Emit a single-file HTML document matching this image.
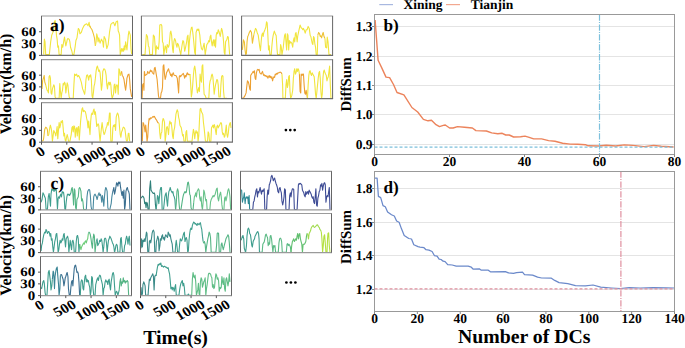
<!DOCTYPE html>
<html><head><meta charset="utf-8"><style>html,body{margin:0;padding:0;background:#fff;overflow:hidden}svg{display:block}</style></head>
<body><svg width="685" height="348" viewBox="0 0 685 348" text-rendering="geometricPrecision">
<rect width="685" height="348" fill="#fff"/>
<clipPath id="cpa00"><rect x="41.5" y="16.0" width="91" height="39.4"/></clipPath>
<g clip-path="url(#cpa00)" fill="none" stroke-width="1.1" stroke-linejoin="round">
<polyline points="43.69,54.62 44.36,39.17 45.03,41.86 45.70,54.62 49.33,54.62 50.67,41.86 51.74,35.15 52.82,32.46 53.76,29.77 54.43,21.72 55.10,20.37 55.77,25.74 56.44,35.15 57.12,39.17 57.79,47.23 58.46,45.89 59.13,54.62 61.15,54.62 61.82,44.55 62.76,47.23 63.83,40.52 64.50,37.16 65.17,41.86 65.85,45.89 66.52,43.20 67.19,39.85 67.86,38.50 69.20,39.17 69.87,41.86 70.55,47.23 71.89,51.26 72.56,54.62 73.90,54.62 75.25,45.89 75.92,40.52 76.99,37.83 77.53,33.80 78.34,28.43 79.28,29.77 79.95,33.80 81.29,32.46 82.63,28.43 83.98,25.74 85.32,24.40 86.66,23.73 88.01,25.74 89.08,22.39 89.62,25.74 90.69,27.76" stroke="#f1e53e"/>
<polyline points="89.62,25.74 90.69,27.76 92.03,29.77 93.38,33.80 94.45,37.83 95.39,45.89" stroke="#eec236"/>
<polyline points="95.39,45.89 96.06,41.86 96.73,33.80 97.41,36.49 98.08,41.86 98.75,37.83 100.09,43.20 101.44,39.17 102.78,41.86 103.45,47.23 104.12,36.49 105.46,39.17 106.81,48.58 108.15,44.55 109.49,32.46 110.84,24.40 112.18,23.06 113.52,22.39 114.87,25.74 116.21,21.72 117.55,21.04 118.22,31.12 118.89,32.46 119.57,35.15 120.24,54.62 121.58,48.58 122.25,51.26 122.92,48.58 123.59,51.26 124.27,45.89 124.94,49.92 125.61,41.86 126.95,49.92 128.30,35.15 128.97,31.12 130.31,35.15 130.98,48.58 131.65,53.95" stroke="#f1e53e"/>
</g>
<path d="M41.0,16.0H133.0" stroke="#9c9c9c" stroke-width="1.2" fill="none"/>
<path d="M41.0,55.4H133.0" stroke="#6e6e6e" stroke-width="1.2" fill="none"/>
<path d="M41.5,16.0V55.4M132.5,16.0V55.4" stroke="#666" stroke-width="1" fill="none"/>
<clipPath id="cpa01"><rect x="141.4" y="16.0" width="91" height="39.4"/></clipPath>
<g clip-path="url(#cpa01)" fill="none" stroke-width="1.1" stroke-linejoin="round">
<polyline points="142.34,54.62 145.03,54.62 146.37,34.47 147.45,36.49 148.39,45.89 149.06,47.23 149.73,54.62 152.42,54.62 153.36,35.15 154.43,36.49 155.10,45.89 155.77,54.62 156.44,45.89 157.12,48.58 157.79,47.23 158.46,49.25 159.13,41.86 159.80,25.07 161.15,24.40 161.82,25.74 162.49,41.86 163.16,43.20 163.83,54.62 165.17,45.89 165.85,47.23 166.52,52.60 167.19,44.55 168.53,47.23 169.20,44.55 170.28,32.46 170.81,31.12 171.62,35.15 172.56,48.58 173.23,52.60 173.90,41.86 174.58,38.50 175.52,40.52 176.19,44.55 176.99,47.23 177.53,43.20 178.34,44.55 179.01,47.23 179.95,51.26 180.75,54.62 181.96,45.89 182.90,40.52 183.71,41.86 184.65,51.26 185.32,48.58 186.66,41.86 187.33,36.49 188.01,35.15 188.68,54.62 189.35,41.86 190.42,32.46 191.36,27.76 192.03,27.09 193.11,35.15 193.78,41.86 194.72,52.60 195.39,54.62 196.06,32.46 197.14,29.10 198.08,30.44 198.75,29.10 199.82,35.15 200.36,41.86 201.44,48.58 202.51,49.92 203.45,45.89 204.12,43.20 205.20,54.62 206.14,48.58 206.81,44.55 207.88,43.20 208.82,40.52 209.49,41.86 210.16,36.49 210.84,35.15 211.51,41.86 212.18,45.89 212.85,41.86 213.52,39.85 214.19,45.89 214.87,39.85 215.54,47.23 216.21,35.15 216.88,32.46 217.55,33.80 218.22,29.77 218.89,31.12 220.24,36.49 220.91,32.46 221.58,28.43 222.25,30.44 222.92,35.15 223.59,41.86 224.27,52.60 224.94,54.62 225.61,41.86 226.95,39.17 227.62,36.49 228.30,37.16 228.97,45.89 229.64,54.62" stroke="#f1e53e"/>
</g>
<path d="M140.9,16.0H232.9" stroke="#9c9c9c" stroke-width="1.2" fill="none"/>
<path d="M140.9,55.4H232.9" stroke="#6e6e6e" stroke-width="1.2" fill="none"/>
<path d="M141.4,16.0V55.4M232.4,16.0V55.4" stroke="#666" stroke-width="1" fill="none"/>
<clipPath id="cpa02"><rect x="241.6" y="16.0" width="91" height="39.4"/></clipPath>
<g clip-path="url(#cpa02)" fill="none" stroke-width="1.1" stroke-linejoin="round">
<polyline points="242.34,49.92 243.42,39.85 244.36,41.86 245.03,49.92 245.70,54.62 246.37,53.95 247.04,41.86 247.72,36.49 248.39,35.15 249.33,32.46 250.40,30.44 251.48,32.46 252.42,43.20 253.09,39.17 253.76,35.15" stroke="#eec236"/>
<polyline points="253.76,35.15 254.43,32.46 255.50,28.43 256.44,29.77 257.12,32.46 258.19,35.15 259.13,41.86 259.80,47.23 260.47,50.59 261.15,41.86 261.82,35.15 262.49,33.13 263.16,36.49 263.83,32.46 264.91,29.77 265.85,27.09 266.52,21.72 267.19,23.06 267.86,35.15 268.53,49.92 269.20,45.89 269.87,54.62 271.22,54.62 271.89,45.89 272.56,39.17 273.23,35.15 274.31,31.12 275.25,33.80 276.19,35.82 276.99,48.58 277.53,54.62 279.95,54.62 280.62,44.55 281.29,47.23 281.96,54.62 283.30,47.23 283.98,40.52 284.65,35.15 285.32,33.80 285.99,41.86 286.66,49.92 287.33,33.80 288.01,35.15 288.68,49.92 289.35,40.52 290.02,43.20 290.69,41.86 291.77,43.20 292.71,47.23 293.38,40.52 294.05,37.83 294.72,41.86 295.39,33.80 296.06,32.46 297.14,41.86 297.67,36.49 298.75,31.12 300.09,25.07 301.17,27.76 302.11,28.43 302.78,29.77 303.45,28.43 304.39,30.44 305.20,33.13 306.14,29.77 307.08,29.77 308.15,26.42 309.22,28.43 310.16,35.15 310.84,36.49 311.51,39.85 312.18,43.20 312.85,44.55 313.52,36.49 314.19,37.83 314.87,43.87 315.54,47.23 316.21,54.62 317.28,54.62 317.82,35.15" stroke="#f1e53e"/>
<polyline points="317.82,35.15 318.63,32.46 319.57,33.80 320.24,36.49 320.91,35.82 321.58,37.83 322.65,33.80 323.19,32.46 324.00,36.49 324.94,38.50" stroke="#eec236"/>
<polyline points="324.94,38.50 325.61,47.23 326.68,47.90 327.22,37.16 328.03,41.86 328.97,54.62 330.98,54.62" stroke="#f1e53e"/>
</g>
<path d="M241.1,16.0H333.1" stroke="#9c9c9c" stroke-width="1.2" fill="none"/>
<path d="M241.1,55.4H333.1" stroke="#6e6e6e" stroke-width="1.2" fill="none"/>
<path d="M241.6,16.0V55.4M332.6,16.0V55.4" stroke="#666" stroke-width="1" fill="none"/>
<line x1="39.0" y1="55.4" x2="41.5" y2="55.4" stroke="#555" stroke-width="1"/>
<text transform="translate(36.2,59.699999999999996) scale(1.15,1)" font-family="Liberation Serif" font-weight="bold" font-size="13" text-anchor="end">0</text>
<line x1="39.0" y1="43.58" x2="41.5" y2="43.58" stroke="#555" stroke-width="1"/>
<text transform="translate(36.2,47.879999999999995) scale(1.15,1)" font-family="Liberation Serif" font-weight="bold" font-size="13" text-anchor="end">30</text>
<line x1="39.0" y1="31.76" x2="41.5" y2="31.76" stroke="#555" stroke-width="1"/>
<text transform="translate(36.2,36.06) scale(1.15,1)" font-family="Liberation Serif" font-weight="bold" font-size="13" text-anchor="end">60</text>
<clipPath id="cpa10"><rect x="41.5" y="59.6" width="91" height="38.99999999999999"/></clipPath>
<g clip-path="url(#cpa10)" fill="none" stroke-width="1.1" stroke-linejoin="round">
<polyline points="42.07,88.89 42.61,80.83 43.42,78.15 44.22,75.46 44.76,82.17 45.70,84.86" stroke="#eec236"/>
<polyline points="45.70,84.86 46.37,87.55 47.04,90.23 47.72,90.90 48.39,92.92 49.06,76.80 49.73,75.46 50.40,78.15 51.07,92.92 51.74,94.26 52.42,88.89 53.09,86.87 53.76,84.86 54.43,86.20 55.10,96.95 55.77,98.29 59.13,98.29 59.80,83.52 60.47,91.58 61.15,98.29 61.82,92.92 62.49,90.23 63.16,83.52 63.83,84.86 64.50,82.17 65.17,83.52 65.85,92.92 66.52,87.55 67.19,82.85 67.86,84.86 68.53,91.58 69.20,96.95 69.87,98.29 73.23,98.29 73.90,84.86 74.58,74.12 75.65,75.46 76.59,74.12 77.53,76.80 78.60,75.46 79.28,76.80 79.95,78.15 81.29,82.17 82.63,88.89 83.71,91.58 84.65,94.26 85.32,88.89 85.99,79.49 86.66,75.46 87.33,74.79 88.01,76.80 88.68,80.16 89.35,75.46 90.02,76.80 90.69,74.79 91.36,79.49 92.03,95.60 92.71,98.29 93.38,92.92 94.05,86.20 94.72,83.52 95.39,78.15 96.06,71.43 96.73,67.40 97.41,66.06 98.08,68.74 98.75,71.43 99.42,70.09 100.09,72.77 100.76,80.83 101.44,90.23 102.11,84.86 102.78,71.43 103.85,68.74 104.79,69.42 105.46,71.43 106.14,75.46 106.81,84.86 107.48,88.89 108.15,83.52 108.82,82.17 109.49,84.86 110.16,82.17 110.84,84.86 111.51,94.26 112.18,98.29 113.52,94.26 114.19,84.86 114.87,84.19 115.54,92.92 116.21,86.20 116.88,84.86 117.55,86.20 118.22,94.26 118.89,68.74 119.57,70.09 120.24,75.46 120.91,74.12 121.58,71.43" stroke="#f1e53e"/>
<polyline points="121.58,71.43 122.25,75.46 123.19,76.80 124.00,79.49 124.94,86.20 125.61,90.23 126.28,84.86 126.95,78.15 128.03,74.79 128.97,74.12 129.64,79.49 130.31,88.89 130.98,92.92 131.65,96.95" stroke="#eca032"/>
</g>
<path d="M41.0,59.6H133.0" stroke="#9c9c9c" stroke-width="1.2" fill="none"/>
<path d="M41.0,98.6H133.0" stroke="#6e6e6e" stroke-width="1.2" fill="none"/>
<path d="M41.5,59.6V98.6M132.5,59.6V98.6" stroke="#666" stroke-width="1" fill="none"/>
<clipPath id="cpa11"><rect x="141.4" y="59.6" width="91" height="38.99999999999999"/></clipPath>
<g clip-path="url(#cpa11)" fill="none" stroke-width="1.1" stroke-linejoin="round">
<polyline points="142.07,98.29 142.61,84.86 143.42,83.52 143.95,90.23 144.36,71.43 145.03,75.46 146.10,74.79 147.04,74.12 147.72,71.43 148.39,72.77 149.06,73.44 149.73,72.10 150.40,70.09 151.07,71.43 151.74,70.76 152.42,72.77 153.09,73.44 153.76,74.12 154.43,68.07 155.10,67.40 155.77,71.43 156.44,75.46 157.12,79.49 157.79,87.55 158.46,95.60 159.13,98.29 160.47,98.29 161.15,92.92 161.82,91.58 162.49,87.55 163.16,66.06 163.83,64.72 164.50,74.12 165.17,79.49 165.85,76.80 166.52,72.77 167.19,71.43 167.86,70.09 168.53,68.74 169.20,71.43 169.87,72.77 170.55,75.46 171.22,74.12 171.89,76.80 172.56,74.12 173.23,72.77 173.90,74.79 174.58,75.46 175.25,75.46 175.92,75.46 176.59,76.80 177.26,78.15 177.93,84.86 178.60,92.92 179.28,76.80 179.95,75.46 180.62,76.80 181.29,75.46 181.96,74.79 182.63,74.12 183.30,73.44 183.98,75.46 184.65,78.15 185.32,75.46 185.99,76.80 186.66,74.12 187.33,72.77 188.01,74.79 188.68,74.12 189.35,74.79 190.02,74.12" stroke="#eca032"/>
<polyline points="190.02,74.12 190.69,84.86 191.36,96.95 192.03,92.92 192.71,84.86 193.38,75.46 194.05,68.74 194.72,66.06 195.39,70.09 196.06,78.15 196.73,87.55 197.41,92.92 198.08,90.23 198.75,87.55 199.42,91.58 200.09,74.12 200.76,79.49 201.44,82.17 202.11,66.06 202.78,64.72 203.45,82.17 204.12,94.26 205.20,95.60 206.14,98.29 208.82,98.29 209.49,84.86 210.16,80.83 210.84,79.49 211.51,75.46 212.18,74.12 212.85,76.80 213.52,84.86 214.19,94.26 214.87,88.89 215.54,84.86 216.21,82.17 216.88,79.49 217.55,80.16 218.22,84.86 218.89,96.95 220.24,96.95 220.91,84.86 221.58,76.80 222.25,75.46 222.92,76.13 223.59,91.58 224.27,98.29 226.95,98.29" stroke="#f1e53e"/>
</g>
<path d="M140.9,59.6H232.9" stroke="#9c9c9c" stroke-width="1.2" fill="none"/>
<path d="M140.9,98.6H232.9" stroke="#6e6e6e" stroke-width="1.2" fill="none"/>
<path d="M141.4,59.6V98.6M232.4,59.6V98.6" stroke="#666" stroke-width="1" fill="none"/>
<clipPath id="cpa12"><rect x="241.6" y="59.6" width="91" height="38.99999999999999"/></clipPath>
<g clip-path="url(#cpa12)" fill="none" stroke-width="1.1" stroke-linejoin="round">
<polyline points="242.34,98.29 243.69,97.62 245.03,95.60 246.10,92.92 246.64,87.55 247.45,80.83 248.39,82.17 249.06,84.86 249.73,88.89 250.40,90.23 250.67,75.46 251.48,74.12 252.42,72.77 253.09,71.43 253.76,72.77 254.43,70.76 255.10,78.15 255.77,79.49 256.44,72.77 257.12,70.09 257.79,69.42 258.46,70.09 259.13,69.42 259.80,72.77 260.47,73.44 261.15,74.12 261.82,72.77 262.49,71.43 263.16,74.12 263.83,75.46 264.50,74.79 265.17,76.13 265.85,75.46 266.52,76.80 267.19,76.13 267.86,78.15 268.53,76.80 269.20,75.46 269.87,77.47 270.55,76.13 271.22,78.15 271.89,76.80 272.56,80.83 273.23,78.15 273.90,76.80 274.58,77.47 275.25,74.12 275.92,74.79 276.59,73.44 277.26,74.12 277.93,72.77 278.60,73.04 279.95,72.10 281.29,72.77 281.96,74.12" stroke="#eca032"/>
<polyline points="281.96,74.12 282.63,84.86 282.90,98.29 285.32,98.29 285.99,84.86 286.66,79.49 287.33,87.55 288.01,84.86 288.68,76.80 289.35,75.46 290.02,91.58 290.69,98.29 291.77,95.60 292.71,90.23 293.38,78.15 294.05,71.43 294.72,68.74 295.39,74.12 296.06,72.77 296.73,68.74 297.41,71.43 298.08,68.74 298.75,70.09 299.42,74.12" stroke="#f1e53e"/>
<polyline points="299.42,74.12 300.09,91.58 300.76,92.92 301.17,74.12 302.11,75.46 302.78,74.12 303.45,74.12 304.12,84.86 304.79,92.92 305.46,94.26 306.14,90.23 306.81,94.26 307.48,98.29" stroke="#eca032"/>
<polyline points="307.48,98.29 308.15,84.86 308.82,75.46 309.49,71.43 310.16,70.76 310.84,74.12 311.51,75.46 312.18,72.77 312.85,74.12 313.52,75.46 314.19,76.80 314.87,84.86 315.54,94.26 316.21,98.29 316.88,91.58 317.55,84.86 318.22,78.15 318.89,72.77 319.57,71.43 320.24,78.15 320.91,91.58 321.58,98.29 322.25,94.26 322.92,78.15 323.59,71.43 324.27,70.09 324.94,72.77 325.61,74.12 326.28,75.46 326.95,80.83 327.62,78.15 328.30,76.80 328.97,71.43 329.64,66.06 330.31,84.86 330.98,98.29" stroke="#f1e53e"/>
</g>
<path d="M241.1,59.6H333.1" stroke="#9c9c9c" stroke-width="1.2" fill="none"/>
<path d="M241.1,98.6H333.1" stroke="#6e6e6e" stroke-width="1.2" fill="none"/>
<path d="M241.6,59.6V98.6M332.6,59.6V98.6" stroke="#666" stroke-width="1" fill="none"/>
<line x1="39.0" y1="98.6" x2="41.5" y2="98.6" stroke="#555" stroke-width="1"/>
<text transform="translate(36.2,102.89999999999999) scale(1.15,1)" font-family="Liberation Serif" font-weight="bold" font-size="13" text-anchor="end">0</text>
<line x1="39.0" y1="86.89999999999999" x2="41.5" y2="86.89999999999999" stroke="#555" stroke-width="1"/>
<text transform="translate(36.2,91.19999999999999) scale(1.15,1)" font-family="Liberation Serif" font-weight="bold" font-size="13" text-anchor="end">30</text>
<line x1="39.0" y1="75.2" x2="41.5" y2="75.2" stroke="#555" stroke-width="1"/>
<text transform="translate(36.2,79.5) scale(1.15,1)" font-family="Liberation Serif" font-weight="bold" font-size="13" text-anchor="end">60</text>
<clipPath id="cpa20"><rect x="41.5" y="102.7" width="91" height="39.499999999999986"/></clipPath>
<g clip-path="url(#cpa20)" fill="none" stroke-width="1.1" stroke-linejoin="round">
<polyline points="42.34,141.29 43.42,139.95 43.95,135.92 44.76,129.20 45.70,127.19 46.64,127.86 47.45,129.87 47.98,135.92" stroke="#eec236"/>
<polyline points="47.98,135.92 48.79,134.58 49.73,127.86 50.40,125.17 51.07,127.86 51.74,131.89 52.42,141.29 53.09,135.92 53.76,130.55 54.43,131.89 55.10,133.23 55.77,135.92 56.44,131.89 57.12,126.52 57.79,138.60 58.46,130.55 59.13,122.49 59.80,127.86 60.47,125.17 61.15,121.15 61.82,122.49 62.49,120.47 63.16,127.86 63.83,135.92 64.50,133.23 65.17,139.95 65.85,141.29 66.52,137.26 67.19,134.58 67.86,137.26 68.53,141.29 69.87,141.29 71.22,134.58 71.89,127.86 72.56,126.52 73.23,131.89 73.90,125.85 74.58,126.52 75.25,137.26 75.92,129.20 76.59,127.86 77.26,135.92 77.93,127.86 78.60,126.52 79.28,139.95 79.95,130.55 80.62,121.15 81.29,114.43 81.96,109.06 82.63,107.72 83.30,111.74 83.98,110.40 84.65,111.07 85.32,111.74 85.99,114.43 86.66,118.46 87.33,121.15 88.01,127.86 88.68,121.15 89.35,127.86 90.02,134.58 90.69,121.15 91.36,114.43 92.03,113.09 92.71,114.43 93.38,110.40 94.05,109.06 94.72,114.43 95.39,111.74 96.06,118.46 96.73,126.52 97.41,125.17 98.08,123.83 98.75,125.17 99.42,134.58 100.09,141.29 100.76,134.58 101.44,127.86 102.11,122.49 102.78,127.86 103.45,131.89 104.12,134.58 104.79,133.23 105.46,130.55 106.14,127.86 106.81,126.52 107.48,122.49 108.15,125.17 108.82,121.15 109.49,113.09 110.16,113.09 110.84,141.29 112.18,141.29 112.85,127.86 113.52,125.17 114.19,126.52 114.87,124.50 115.54,130.55 116.21,117.12 116.88,114.43 117.55,113.09 118.22,114.43 118.89,118.46 119.57,127.86 120.24,134.58 120.91,137.26 121.58,131.89 122.25,130.55 122.92,127.86 123.59,127.19 124.27,127.86 124.94,129.20 125.61,134.58 126.28,139.95 126.95,141.29 127.62,139.95 128.30,133.23 128.97,133.23 129.64,141.29" stroke="#f1e53e"/>
</g>
<path d="M41.0,102.7H133.0" stroke="#9c9c9c" stroke-width="1.2" fill="none"/>
<path d="M41.0,142.2H133.0" stroke="#6e6e6e" stroke-width="1.2" fill="none"/>
<path d="M41.5,102.7V142.2M132.5,102.7V142.2" stroke="#666" stroke-width="1" fill="none"/>
<clipPath id="cpa21"><rect x="141.4" y="102.7" width="91" height="39.499999999999986"/></clipPath>
<g clip-path="url(#cpa21)" fill="none" stroke-width="1.1" stroke-linejoin="round">
<polyline points="142.34,141.29 143.01,122.49 143.69,123.83 144.36,126.52 145.03,131.89 145.70,125.17 146.37,131.89 147.04,141.29 147.72,137.26 148.39,125.17 149.06,118.46 149.73,119.80 150.40,117.79 151.07,118.46 151.74,117.79 152.42,117.12 153.09,116.44 153.76,117.12 154.43,116.44 155.10,117.79 155.77,119.13 156.44,119.80 157.12,121.15 157.79,122.49 158.46,123.16" stroke="#eca032"/>
<polyline points="158.46,123.16 159.13,123.83 159.80,133.23 160.47,138.60 161.15,133.23 161.82,131.89 162.49,121.15 163.16,118.46 163.83,119.80 164.50,122.49 165.17,141.29 165.85,135.92 166.52,127.86 167.19,126.52 167.86,129.20 168.53,134.58 169.20,125.17 169.87,121.15 170.55,123.83 171.22,122.49 171.89,127.86 172.56,135.92 173.23,138.60 173.90,130.55 174.58,127.86 175.25,121.15 175.92,114.43 176.59,111.74 177.26,109.73 177.93,111.74 178.60,117.12 179.28,119.80 179.95,125.17 180.62,126.52 181.29,127.86 181.96,131.89 182.63,135.92 183.30,134.58 183.98,141.29 185.32,141.29 185.99,131.89 186.66,130.55 187.33,141.29 192.03,141.29 192.71,134.58 193.38,129.20 194.05,131.89 194.72,138.60 195.39,133.23 196.06,130.55 196.73,133.23 197.41,131.89 198.08,141.29 198.75,135.92 199.42,121.15 200.09,109.06 200.76,108.39 201.44,111.74 202.11,113.09 202.78,114.43 203.45,122.49 204.12,127.86 204.79,134.58 205.46,141.29 207.48,141.29 208.15,131.89 208.82,133.23 209.49,141.29 210.84,141.29 211.51,127.86 212.18,126.52 212.85,125.17 213.52,127.86 214.19,124.50 214.87,126.52 215.54,130.55 216.21,134.58 216.88,126.52 217.55,125.17 218.22,127.86 218.89,126.52 219.57,125.17 220.24,123.83 220.91,122.49 221.58,123.83 222.25,131.89 222.92,134.58 223.59,133.23 224.27,137.26 224.94,135.92 225.61,130.55 226.28,125.17 226.95,134.58 227.62,137.26 228.30,133.23 228.97,126.52 229.64,123.83 230.31,122.49 230.98,127.86" stroke="#f1e53e"/>
</g>
<path d="M140.9,102.7H232.9" stroke="#9c9c9c" stroke-width="1.2" fill="none"/>
<path d="M140.9,142.2H232.9" stroke="#6e6e6e" stroke-width="1.2" fill="none"/>
<path d="M141.4,102.7V142.2M232.4,102.7V142.2" stroke="#666" stroke-width="1" fill="none"/>
<line x1="39.0" y1="142.2" x2="41.5" y2="142.2" stroke="#555" stroke-width="1"/>
<text transform="translate(36.2,146.5) scale(1.15,1)" font-family="Liberation Serif" font-weight="bold" font-size="13" text-anchor="end">0</text>
<line x1="39.0" y1="130.35" x2="41.5" y2="130.35" stroke="#555" stroke-width="1"/>
<text transform="translate(36.2,134.65) scale(1.15,1)" font-family="Liberation Serif" font-weight="bold" font-size="13" text-anchor="end">30</text>
<line x1="39.0" y1="118.5" x2="41.5" y2="118.5" stroke="#555" stroke-width="1"/>
<text transform="translate(36.2,122.8) scale(1.15,1)" font-family="Liberation Serif" font-weight="bold" font-size="13" text-anchor="end">60</text>
<line x1="41.5" y1="142.2" x2="41.5" y2="144.7" stroke="#555" stroke-width="1"/>
<text transform="translate(40.3,151.66) scale(1.15,1) rotate(-30)" font-family="Liberation Serif" font-weight="bold" font-size="13.6" text-anchor="middle" dy="4.5">0</text>
<line x1="66.77777777777777" y1="142.2" x2="66.77777777777777" y2="144.7" stroke="#555" stroke-width="1"/>
<text transform="translate(65.57777777777777,154.91) scale(1.15,1) rotate(-30)" font-family="Liberation Serif" font-weight="bold" font-size="13.6" text-anchor="middle" dy="4.5">500</text>
<line x1="92.05555555555556" y1="142.2" x2="92.05555555555556" y2="144.7" stroke="#555" stroke-width="1"/>
<text transform="translate(90.85555555555555,156.54) scale(1.15,1) rotate(-30)" font-family="Liberation Serif" font-weight="bold" font-size="13.6" text-anchor="middle" dy="4.5">1000</text>
<line x1="117.33333333333334" y1="142.2" x2="117.33333333333334" y2="144.7" stroke="#555" stroke-width="1"/>
<text transform="translate(116.13333333333334,156.54) scale(1.15,1) rotate(-30)" font-family="Liberation Serif" font-weight="bold" font-size="13.6" text-anchor="middle" dy="4.5">1500</text>
<line x1="141.4" y1="142.2" x2="141.4" y2="144.7" stroke="#555" stroke-width="1"/>
<text transform="translate(140.20000000000002,151.66) scale(1.15,1) rotate(-30)" font-family="Liberation Serif" font-weight="bold" font-size="13.6" text-anchor="middle" dy="4.5">0</text>
<line x1="166.67777777777778" y1="142.2" x2="166.67777777777778" y2="144.7" stroke="#555" stroke-width="1"/>
<text transform="translate(165.4777777777778,154.91) scale(1.15,1) rotate(-30)" font-family="Liberation Serif" font-weight="bold" font-size="13.6" text-anchor="middle" dy="4.5">500</text>
<line x1="191.95555555555558" y1="142.2" x2="191.95555555555558" y2="144.7" stroke="#555" stroke-width="1"/>
<text transform="translate(190.7555555555556,156.54) scale(1.15,1) rotate(-30)" font-family="Liberation Serif" font-weight="bold" font-size="13.6" text-anchor="middle" dy="4.5">1000</text>
<line x1="217.23333333333335" y1="142.2" x2="217.23333333333335" y2="144.7" stroke="#555" stroke-width="1"/>
<text transform="translate(216.03333333333336,156.54) scale(1.15,1) rotate(-30)" font-family="Liberation Serif" font-weight="bold" font-size="13.6" text-anchor="middle" dy="4.5">1500</text>
<text x="49.9" y="31" font-family="Liberation Serif" font-weight="bold" font-size="17.6">a)</text>
<clipPath id="cpc00"><rect x="40.5" y="171.3" width="91" height="38.599999999999994"/></clipPath>
<g clip-path="url(#cpc00)" fill="none" stroke-width="1.1" stroke-linejoin="round">
<polyline points="41.07,202.23 42.01,199.55 42.95,192.83 43.76,194.17 44.70,196.86 45.37,198.20 46.04,208.95 47.39,209.62 48.33,196.86 49.13,193.50 49.67,198.20 50.48,206.26 51.01,194.17 51.82,188.80 52.76,190.15 53.43,189.47 54.10,191.49 54.77,188.80 55.44,190.15 56.12,188.80 56.79,196.86 57.46,208.95 58.13,198.20 58.80,196.86 59.47,198.20 60.15,195.52 60.82,194.17 61.49,196.86 62.16,191.49 62.83,192.83 63.50,192.16 64.17,196.86 64.85,208.95 65.52,209.62 66.19,202.23 66.86,196.86 67.53,194.17 68.20,194.85 68.87,194.17 69.55,195.52 70.22,194.17 70.89,192.83" stroke="#3f9e8e"/>
<polyline points="70.89,192.83 71.56,188.80 72.23,187.46 72.90,194.17 73.58,204.92 74.25,188.80 74.92,190.15 75.59,207.60 76.26,209.62 76.93,199.55 77.60,198.20 78.28,196.86 78.95,188.80 79.62,187.46 80.29,188.80 80.96,191.49 81.63,200.89 82.30,198.87 82.98,202.23 83.65,209.62 86.33,209.62" stroke="#55b585"/>
<polyline points="86.33,209.62 87.01,196.86 87.68,191.49 88.35,190.15 89.02,189.47 89.69,190.15 90.36,195.52 91.03,206.26 91.71,209.62 93.05,209.62 93.72,196.86 94.39,194.85 95.06,194.17 95.73,195.52 96.41,196.86 97.08,199.55 97.75,196.86 98.42,194.17 99.09,192.83 99.76,195.52 100.44,194.17 101.11,196.86 101.78,202.23 102.45,195.52 103.12,199.55 103.79,206.26 104.46,196.86 105.14,190.15 105.81,187.46 106.48,188.80 107.15,191.49 107.82,207.60 108.49,209.62 109.84,209.62 110.51,206.26 111.18,203.58 111.85,196.86 112.52,192.83" stroke="#4a8aa0"/>
<polyline points="112.52,192.83 113.19,190.15 113.87,187.46 114.54,194.17 115.21,191.49 115.88,187.46 116.55,182.76 117.22,183.43 117.89,186.12 118.57,182.09 119.24,183.43 119.91,182.09 120.58,187.46 121.25,191.49 121.92,195.52 122.59,191.49 123.27,198.20 123.94,190.15 124.61,209.62 125.28,204.92 125.95,191.49 126.62,188.80 127.30,187.46 127.97,190.15 128.64,191.49 129.31,194.17 129.98,209.62" stroke="#3b6f90"/>
</g>
<path d="M40.0,171.3H132.0" stroke="#9c9c9c" stroke-width="1.2" fill="none"/>
<path d="M40.0,209.9H132.0" stroke="#9a9a9a" stroke-width="1.2" fill="none"/>
<path d="M40.5,171.3V209.9M131.5,171.3V209.9" stroke="#666" stroke-width="1" fill="none"/>
<clipPath id="cpc01"><rect x="140.5" y="171.3" width="91" height="38.599999999999994"/></clipPath>
<g clip-path="url(#cpc01)" fill="none" stroke-width="1.1" stroke-linejoin="round">
<polyline points="141.07,198.20 142.01,196.86 142.69,196.19 143.36,196.86 144.03,198.20 144.70,203.58 145.37,202.23 146.04,207.60 146.72,202.23 147.39,203.58 148.06,209.62 149.13,209.62 149.67,188.80 150.48,180.74 151.01,190.15 151.82,191.49 152.76,192.83 153.43,193.50 154.10,192.83 154.77,194.17 155.44,204.92 156.12,209.62" stroke="#2f807a"/>
<polyline points="156.12,209.62 156.79,203.58 157.46,195.52 158.13,196.86 158.80,203.58 159.47,196.86 160.15,190.15 160.82,187.46 161.49,187.46 162.16,209.62 163.50,209.62 164.17,203.58 164.85,196.86 165.52,194.17 166.19,192.83 166.86,200.89 167.53,206.26 168.20,196.86 168.87,191.49 169.55,190.15 170.22,187.46 170.89,190.15 171.56,191.49 172.23,192.83 172.90,191.49 173.58,195.52 174.25,196.86 174.92,199.55 175.59,209.62" stroke="#3f9e8e"/>
<polyline points="175.59,209.62 176.26,203.58 176.93,191.49 177.60,188.80 178.28,191.49 178.95,202.23 179.62,209.62 180.96,209.62 182.30,200.89 182.98,196.86 183.65,194.17 184.32,192.83 184.99,191.49 185.66,192.83 186.33,192.16 187.01,187.46 187.68,182.76 188.35,182.09 189.02,186.12 189.69,194.17 190.36,195.52 191.03,207.60 191.71,209.62 193.05,209.62 193.72,202.23" stroke="#55b585"/>
<polyline points="193.72,202.23 194.39,196.86 195.06,195.52 195.73,192.83 196.41,196.86 197.08,191.49 197.75,190.15 198.42,188.80 199.09,190.15 199.76,198.20 200.44,200.89 201.11,196.86 201.78,206.26 202.45,209.62 203.12,202.23 203.79,190.15 204.46,192.16 205.14,196.86 205.81,200.89 206.48,199.55 207.15,209.62 209.84,209.62 210.51,202.23 211.18,199.55 211.85,198.20 212.52,196.86 213.19,195.52 213.87,196.86 214.54,195.52 215.21,194.17 215.88,191.49 216.55,188.80 217.22,188.13 217.89,198.20 218.57,200.89 219.24,196.86 219.91,194.17 220.58,192.16 221.25,196.86 221.92,204.92 222.59,209.62 223.94,209.62 224.61,198.20 225.28,196.86 225.95,200.89 226.62,198.20 227.30,194.17 227.97,190.15 228.64,188.80 229.31,191.49 229.98,196.86 230.65,209.62" stroke="#68c28a"/>
</g>
<path d="M140.0,171.3H232.0" stroke="#9c9c9c" stroke-width="1.2" fill="none"/>
<path d="M140.0,209.9H232.0" stroke="#9a9a9a" stroke-width="1.2" fill="none"/>
<path d="M140.5,171.3V209.9M231.5,171.3V209.9" stroke="#666" stroke-width="1" fill="none"/>
<clipPath id="cpc02"><rect x="240.5" y="171.3" width="91" height="38.599999999999994"/></clipPath>
<g clip-path="url(#cpc02)" fill="none" stroke-width="1.1" stroke-linejoin="round">
<polyline points="241.07,190.15 241.61,190.15 242.42,202.23 242.95,199.55 243.76,196.86 244.30,192.83 245.10,203.58 245.64,198.20 246.45,196.86 246.98,198.20 247.79,196.86 248.33,203.58 249.13,195.52 249.67,209.62" stroke="#2e8a95"/>
<polyline points="249.67,209.62 252.76,209.62 253.43,202.23 254.10,200.89 254.77,196.86 255.44,194.17 256.12,190.15 256.79,188.80 257.46,196.86 258.13,191.49 258.80,192.83 259.47,190.15 260.15,187.46 260.82,191.49 261.49,194.17 262.16,190.15 262.83,191.49 263.50,190.15 264.17,188.80 264.85,209.62 266.59,209.62 267.13,196.86 267.80,190.15 268.47,194.17 269.28,184.77 269.81,183.43 270.62,180.74 271.16,176.72 271.96,175.37 272.50,177.39 273.31,180.74 273.84,179.40 274.65,178.06 275.19,180.74 275.99,183.43 276.53,184.77 277.34,187.46 277.87,191.49 278.68,192.83 279.22,188.80 280.02,187.46 280.56,190.15 281.36,192.83 281.90,200.89 282.71,204.92 283.24,202.23 284.05,196.86 284.59,188.80 285.39,190.15 285.93,209.62 289.02,209.62 289.69,195.52 290.36,192.83 291.03,196.86 291.71,191.49 292.38,188.80 293.05,188.80 293.72,189.47 294.39,209.62 297.08,209.62 297.75,196.86 298.42,184.77 299.09,183.43 299.76,184.10 300.44,183.43 301.11,184.10 301.78,184.77 302.45,190.15 303.12,191.49 303.79,192.83 304.46,195.52 305.14,196.86 305.81,191.49 306.48,194.17 307.15,192.83 307.82,191.49 308.49,194.17 309.16,190.15 309.84,191.49 310.51,192.83 311.18,194.17 311.85,196.86 312.52,198.20 313.19,196.86 313.87,202.23 314.54,203.58 315.21,196.86 315.88,188.80 316.55,204.92 317.22,206.26 317.89,198.20 318.57,195.52 319.24,191.49 319.91,190.15 320.58,184.77 321.25,186.12 321.92,183.43 322.59,190.15 323.27,186.12 323.94,183.43 324.61,182.76 325.28,184.77 325.95,202.23 326.62,196.86 327.30,195.52 327.97,196.86 328.64,191.49 329.31,187.46 329.98,209.62" stroke="#3e4c95"/>
</g>
<path d="M240.0,171.3H332.0" stroke="#9c9c9c" stroke-width="1.2" fill="none"/>
<path d="M240.0,209.9H332.0" stroke="#9a9a9a" stroke-width="1.2" fill="none"/>
<path d="M240.5,171.3V209.9M331.5,171.3V209.9" stroke="#666" stroke-width="1" fill="none"/>
<line x1="38.0" y1="209.9" x2="40.5" y2="209.9" stroke="#555" stroke-width="1"/>
<text transform="translate(35.2,214.20000000000002) scale(1.15,1)" font-family="Liberation Serif" font-weight="bold" font-size="13" text-anchor="end">0</text>
<line x1="38.0" y1="198.32" x2="40.5" y2="198.32" stroke="#555" stroke-width="1"/>
<text transform="translate(35.2,202.62) scale(1.15,1)" font-family="Liberation Serif" font-weight="bold" font-size="13" text-anchor="end">30</text>
<line x1="38.0" y1="186.74" x2="40.5" y2="186.74" stroke="#555" stroke-width="1"/>
<text transform="translate(35.2,191.04000000000002) scale(1.15,1)" font-family="Liberation Serif" font-weight="bold" font-size="13" text-anchor="end">60</text>
<clipPath id="cpc10"><rect x="40.5" y="213.5" width="91" height="39.099999999999994"/></clipPath>
<g clip-path="url(#cpc10)" fill="none" stroke-width="1.1" stroke-linejoin="round">
<polyline points="41.07,250.95 41.61,245.58 42.42,242.89 42.95,238.86 43.76,234.83 44.70,232.15 45.37,232.82 46.04,229.46 46.72,230.80 47.39,233.49 48.06,232.15 48.73,231.47 49.40,232.82 50.07,236.17 50.74,233.49 51.42,240.20 52.09,238.86 52.76,246.92 53.43,252.29 54.10,246.92 54.77,241.55 55.44,238.86 56.12,234.16 56.79,233.49 57.46,241.55 58.13,252.29 58.80,249.60 59.47,244.23 60.15,240.20 60.82,242.89 61.49,241.55 62.16,238.86 62.83,240.20 63.50,234.83 64.17,233.49 64.85,240.20 65.52,246.92 66.19,238.86 66.86,237.52 67.53,236.17 68.20,238.86 68.87,252.29 69.55,245.58 70.22,240.20 70.89,245.58 71.56,249.60 72.23,241.55 72.90,240.20 73.58,242.89 74.25,252.29 75.59,252.29 76.26,241.55 76.93,236.17 77.60,235.50 78.28,238.86 78.95,252.29 79.62,244.23" stroke="#3f9e8e"/>
<polyline points="79.62,244.23 80.29,246.92 80.96,249.60 81.63,246.92 82.30,245.58 82.98,244.23 83.65,242.89 84.32,244.23 84.99,241.55 85.66,240.87 86.33,242.89 87.01,240.20 87.68,238.86 88.35,233.49" stroke="#6ccc78"/>
<polyline points="88.35,233.49 89.02,232.15 89.69,232.82 90.36,234.83 91.03,238.86 91.71,244.23 92.38,248.26 93.05,238.86 93.72,234.16 94.39,236.17 95.06,252.29 95.73,245.58 96.41,241.55" stroke="#55b585"/>
<polyline points="96.41,241.55 97.08,238.86 97.75,245.58 98.42,244.23 99.09,242.89 99.76,240.20 100.44,241.55 101.11,238.86 101.78,240.20 102.45,245.58 103.12,252.29 103.79,246.92 104.46,238.86 105.14,238.19 105.81,238.86 106.48,242.89 107.15,252.29 107.82,245.58 108.49,240.20 109.16,238.86 109.84,236.17 110.51,237.52 111.18,238.86 111.85,240.87 112.52,242.89 113.19,244.23 113.87,246.92 114.54,252.29 115.21,249.60 115.88,245.58 116.55,244.23 117.22,245.58 117.89,252.29 119.91,252.29 120.58,238.86 121.25,237.52 121.92,246.92 122.59,252.29 123.94,252.29 124.61,245.58 125.28,244.23 125.95,238.86 126.62,236.17 127.30,238.86 127.97,244.23 128.64,238.86 129.31,236.17 129.98,245.58" stroke="#3f9e8e"/>
</g>
<path d="M40.0,213.5H132.0" stroke="#9c9c9c" stroke-width="1.2" fill="none"/>
<path d="M40.0,252.6H132.0" stroke="#9a9a9a" stroke-width="1.2" fill="none"/>
<path d="M40.5,213.5V252.6M131.5,213.5V252.6" stroke="#666" stroke-width="1" fill="none"/>
<clipPath id="cpc11"><rect x="140.5" y="213.5" width="91" height="39.099999999999994"/></clipPath>
<g clip-path="url(#cpc11)" fill="none" stroke-width="1.1" stroke-linejoin="round">
<polyline points="141.07,248.26 141.61,238.86 142.42,246.92 142.95,240.20 143.76,241.55 144.30,238.86 145.10,241.55 145.64,237.52 146.45,232.15 146.98,233.49 147.79,252.29 148.73,252.29 149.40,241.55 150.07,240.20 150.74,242.89 151.42,238.86 152.09,233.49 152.76,230.80 153.43,230.13 154.10,232.15 154.77,252.29 155.85,252.29 156.38,241.55 157.19,238.86 157.73,236.17 158.53,238.86 159.07,250.95 159.88,245.58 160.41,238.86 161.22,240.20 161.76,236.17 162.56,234.83 163.10,238.86 163.91,237.52 164.44,240.20 165.25,236.17 165.79,234.83 166.59,236.17 167.53,237.52 168.20,232.15 168.87,233.49 169.55,236.17 170.22,234.83 170.89,238.86 171.56,241.55 172.23,244.23 172.90,252.29 175.19,252.29" stroke="#3a8a88"/>
<polyline points="175.19,252.29 175.72,244.23 176.26,240.20 176.93,245.58 177.60,252.29 178.95,252.29 179.62,244.23 180.29,238.86 180.96,240.20 181.63,240.87 182.30,238.86 182.98,236.17 183.65,233.49 184.32,232.15 184.99,241.55 185.66,238.86 186.33,237.52 187.01,240.20 187.68,252.29 188.35,250.95 189.02,240.20 189.69,233.49 190.36,229.46 191.03,228.12 191.71,229.46 192.38,225.43 193.05,223.42 193.72,222.07 194.39,222.74 195.06,224.09 195.73,223.42 196.41,224.76 197.08,225.43 197.75,223.42 198.42,224.09 199.09,224.76 199.76,223.42 200.44,222.74 201.11,226.77 201.78,229.46 202.45,236.17 203.12,241.55" stroke="#3f9e8e"/>
<polyline points="203.12,241.55 203.79,242.89 204.46,241.55 205.14,244.23 205.81,252.29 206.48,246.92 207.15,242.89 207.82,238.86 208.49,236.17 209.16,232.15 209.84,233.49 210.51,237.52 211.18,252.29 215.88,252.29 216.55,245.58 217.22,233.49 217.89,232.82 218.57,233.49 219.24,252.29 220.58,252.29 221.25,244.23 221.92,242.89 222.59,246.92 223.27,249.60 223.94,246.92 224.61,244.23 225.28,241.55 225.95,238.86 226.62,237.52 227.30,236.17 227.97,234.83 228.64,236.17 229.31,242.89 229.98,252.29" stroke="#55b585"/>
</g>
<path d="M140.0,213.5H232.0" stroke="#9c9c9c" stroke-width="1.2" fill="none"/>
<path d="M140.0,252.6H232.0" stroke="#9a9a9a" stroke-width="1.2" fill="none"/>
<path d="M140.5,213.5V252.6M231.5,213.5V252.6" stroke="#666" stroke-width="1" fill="none"/>
<clipPath id="cpc12"><rect x="240.5" y="213.5" width="91" height="39.099999999999994"/></clipPath>
<g clip-path="url(#cpc12)" fill="none" stroke-width="1.1" stroke-linejoin="round">
<polyline points="241.07,240.20 241.61,238.86 242.42,236.17 242.95,235.50 243.76,238.86 244.30,248.26 245.10,250.95 245.64,252.29 246.45,245.58 246.98,236.17 247.79,229.46 248.33,228.12 249.13,229.46 249.67,233.49 250.48,234.83 251.01,238.86 251.82,245.58 252.36,246.92 253.16,241.55 253.70,240.20 254.50,238.86 255.04,236.17 255.85,234.83 256.38,233.49 257.19,232.15 257.73,231.47 258.53,233.49 259.07,238.86 259.47,252.29 262.16,252.29" stroke="#3f9e8e"/>
<polyline points="262.16,252.29 262.83,244.23 263.50,242.89 264.17,242.22 264.85,238.86 265.52,234.83 266.19,234.16 266.86,236.17 267.53,237.52 268.20,245.58 268.87,242.89 269.55,244.23 270.22,236.17 270.89,235.50 271.56,238.86 272.23,245.58 272.90,252.29 273.58,245.58 274.25,246.92 274.92,245.58 275.59,252.29 278.28,252.29 278.95,242.89 279.62,238.86 280.29,238.19 280.96,238.86 281.63,241.55 282.30,252.29 286.33,252.29 287.01,244.23 287.68,243.56 288.35,245.58 289.02,244.23 289.69,245.58 290.36,246.92 291.03,252.29" stroke="#5cba85"/>
<polyline points="291.03,252.29 291.71,245.58 292.38,241.55 293.05,240.20 293.72,238.86 294.39,241.55 295.06,240.20 295.73,238.86 296.41,240.20 297.08,236.17 297.75,233.49 298.42,238.86 299.09,234.83 299.76,233.49 300.44,238.86 301.11,241.55 301.78,244.23 302.45,252.29 303.12,244.23 304.46,244.23 305.14,242.89 305.81,241.55 306.48,236.17 307.15,233.49" stroke="#62c070"/>
<polyline points="307.15,233.49 307.82,234.83 308.49,238.86 309.16,233.49 309.84,232.15 310.51,230.80 311.18,228.12 311.85,226.77 312.52,226.10 313.19,225.43 313.87,226.77 314.54,227.44 315.21,226.77 315.88,226.10 316.55,225.43 317.22,224.76 317.89,225.43 318.57,226.77 319.24,227.44 319.91,229.46 320.58,230.13 321.25,231.47" stroke="#a2dc50"/>
<polyline points="321.25,231.47 321.92,238.86 322.59,252.29 323.27,245.58 323.94,236.17 324.61,234.83 325.28,242.89 325.95,252.29 327.03,252.29 327.56,238.86 327.97,233.49 328.64,232.82 329.31,245.58 329.98,252.29" stroke="#b4e040"/>
</g>
<path d="M240.0,213.5H332.0" stroke="#9c9c9c" stroke-width="1.2" fill="none"/>
<path d="M240.0,252.6H332.0" stroke="#9a9a9a" stroke-width="1.2" fill="none"/>
<path d="M240.5,213.5V252.6M331.5,213.5V252.6" stroke="#666" stroke-width="1" fill="none"/>
<line x1="38.0" y1="252.6" x2="40.5" y2="252.6" stroke="#555" stroke-width="1"/>
<text transform="translate(35.2,256.9) scale(1.15,1)" font-family="Liberation Serif" font-weight="bold" font-size="13" text-anchor="end">0</text>
<line x1="38.0" y1="240.87" x2="40.5" y2="240.87" stroke="#555" stroke-width="1"/>
<text transform="translate(35.2,245.17000000000002) scale(1.15,1)" font-family="Liberation Serif" font-weight="bold" font-size="13" text-anchor="end">30</text>
<line x1="38.0" y1="229.14" x2="40.5" y2="229.14" stroke="#555" stroke-width="1"/>
<text transform="translate(35.2,233.44) scale(1.15,1)" font-family="Liberation Serif" font-weight="bold" font-size="13" text-anchor="end">60</text>
<clipPath id="cpc20"><rect x="40.5" y="256.5" width="91" height="39.10000000000002"/></clipPath>
<g clip-path="url(#cpc20)" fill="none" stroke-width="1.1" stroke-linejoin="round">
<polyline points="41.07,287.23 41.61,288.58 42.42,284.55 42.95,281.86 43.76,280.52 44.30,283.20 45.10,292.60 45.64,295.29 46.98,295.29 47.79,281.86 48.33,272.46 49.13,270.44 49.67,275.15 50.48,281.86 51.01,289.92 51.82,285.89 52.36,279.17" stroke="#3f9e8e"/>
<polyline points="52.36,279.17 53.16,271.12 53.70,272.46 54.50,288.58 55.04,276.49 55.85,271.12 56.38,268.43 57.19,267.09 57.73,275.15 58.53,284.55 59.07,295.29 59.88,288.58 60.41,275.15" stroke="#3a8595"/>
<polyline points="60.41,275.15 61.22,274.47 61.76,275.15 62.56,277.83 63.10,279.17 63.91,285.89 64.44,283.20 65.25,277.83 65.79,276.49 66.59,273.80 67.13,272.46 67.93,276.49 68.47,288.58 69.28,295.29 70.22,295.29 70.89,287.23 71.56,281.86 72.23,280.52 72.90,285.89 73.58,276.49 74.25,268.43 74.92,265.74 75.59,265.07 76.26,268.43 76.93,272.46 77.60,271.79 78.28,273.80 78.95,281.86 79.62,295.29 80.29,295.29" stroke="#3b6f90"/>
<polyline points="80.29,295.29 80.96,281.86 81.63,279.85 82.30,280.52 82.98,288.58 83.65,289.92 84.32,281.86 84.99,276.49 85.66,275.15 86.33,281.86 87.01,279.17 87.68,281.86 88.35,280.52 89.02,284.55 89.69,287.23 90.36,295.29 91.03,291.26 91.71,276.49 92.38,277.83 93.05,288.58 93.72,295.29 95.06,295.29 95.73,284.55 96.41,281.86 97.08,279.17 97.75,277.83 98.42,280.52 99.09,276.49 99.76,275.15 100.44,275.82 101.11,279.17 101.78,281.86 102.45,284.55 103.12,295.29 103.79,288.58 104.46,287.23 105.14,281.86 105.81,279.85 106.48,281.86 107.15,281.19 107.82,284.55 108.49,280.52 109.16,279.17 109.84,285.89 110.51,289.92 111.18,281.86 111.85,277.83 112.52,273.80 113.19,272.46 113.87,275.15 114.54,285.89 115.21,295.29 115.88,292.60 116.55,291.26 117.22,292.60 117.89,295.29 119.24,289.92" stroke="#3f9e8e"/>
<polyline points="119.24,289.92 119.91,281.86 120.58,278.50 121.25,285.89 121.92,281.86 122.59,283.20 123.27,277.83 123.94,281.86 124.61,280.52 125.28,283.20 125.95,281.19 126.62,281.86 127.30,280.52 127.97,281.86 128.64,295.29" stroke="#55b585"/>
</g>
<path d="M40.0,256.5H132.0" stroke="#9c9c9c" stroke-width="1.2" fill="none"/>
<path d="M40.0,295.6H132.0" stroke="#9a9a9a" stroke-width="1.2" fill="none"/>
<path d="M40.5,256.5V295.6M131.5,256.5V295.6" stroke="#666" stroke-width="1" fill="none"/>
<clipPath id="cpc21"><rect x="140.5" y="256.5" width="91" height="39.10000000000002"/></clipPath>
<g clip-path="url(#cpc21)" fill="none" stroke-width="1.1" stroke-linejoin="round">
<polyline points="141.07,287.23 141.61,295.29 142.42,293.95 142.95,284.55 143.76,281.86 144.30,283.20 145.10,285.89 145.64,295.29 148.06,295.29 148.73,285.89 149.40,279.17 150.07,280.52 150.74,277.83 151.42,276.49 152.09,275.15 152.76,273.80 153.43,276.49 154.10,289.92 154.77,276.49 155.44,275.15 156.12,275.82" stroke="#3a8a88"/>
<polyline points="156.12,275.82 156.79,271.12 157.46,267.09 158.13,264.40 158.80,265.07 159.47,263.73 160.15,264.40 160.82,263.06 161.49,266.42 162.16,265.74 162.83,266.42 163.50,267.09 164.17,266.42 164.85,266.42 165.52,267.09 166.19,267.09 166.86,267.76 167.53,268.43 168.20,267.76 168.87,271.12 169.55,273.80 170.22,280.52 170.89,288.58 171.56,287.23 172.23,289.92 172.90,287.23 173.58,288.58 174.25,291.26 174.92,287.23 175.59,284.55 176.26,295.29 178.95,295.29 179.62,289.92 180.29,285.89 180.96,283.20 181.63,281.86 182.30,280.52 182.98,285.89 183.65,283.20 184.32,287.23 184.99,295.29 187.68,295.29 188.35,293.95 189.02,295.29 191.71,295.29" stroke="#3f9e8e"/>
<polyline points="191.71,295.29 192.38,279.17 193.05,272.46 193.72,276.49 194.39,277.83 195.06,275.15 195.73,281.86 196.41,295.29 197.75,289.92 198.42,283.20 199.09,293.95 199.76,295.29 200.44,281.86 201.11,277.83 201.78,279.17 202.45,287.23 203.12,284.55 203.79,281.86 204.46,280.52 205.14,277.83 205.81,295.29 206.48,288.58 207.15,284.55 207.82,279.17 208.49,273.80 209.16,273.13 209.84,273.80 210.51,273.80 211.18,276.49 211.85,277.83 212.52,287.23 213.19,284.55 213.87,288.58 214.54,287.23 215.21,279.17 215.88,273.80 216.55,275.15 217.22,279.17 217.89,277.83 218.57,280.52 219.24,291.26 219.91,287.23 220.58,288.58 221.25,287.23 221.92,276.49 222.59,281.86 223.27,284.55 223.94,277.83 224.61,288.58 225.28,291.26 225.95,279.17 226.62,277.83 227.30,281.86 227.97,285.89 228.64,281.86 229.31,273.80 229.98,281.86" stroke="#5ebd85"/>
</g>
<path d="M140.0,256.5H232.0" stroke="#9c9c9c" stroke-width="1.2" fill="none"/>
<path d="M140.0,295.6H232.0" stroke="#9a9a9a" stroke-width="1.2" fill="none"/>
<path d="M140.5,256.5V295.6M231.5,256.5V295.6" stroke="#666" stroke-width="1" fill="none"/>
<line x1="38.0" y1="295.6" x2="40.5" y2="295.6" stroke="#555" stroke-width="1"/>
<text transform="translate(35.2,299.90000000000003) scale(1.15,1)" font-family="Liberation Serif" font-weight="bold" font-size="13" text-anchor="end">0</text>
<line x1="38.0" y1="283.87" x2="40.5" y2="283.87" stroke="#555" stroke-width="1"/>
<text transform="translate(35.2,288.17) scale(1.15,1)" font-family="Liberation Serif" font-weight="bold" font-size="13" text-anchor="end">30</text>
<line x1="38.0" y1="272.14" x2="40.5" y2="272.14" stroke="#555" stroke-width="1"/>
<text transform="translate(35.2,276.44) scale(1.15,1)" font-family="Liberation Serif" font-weight="bold" font-size="13" text-anchor="end">60</text>
<line x1="40.5" y1="295.6" x2="40.5" y2="298.1" stroke="#555" stroke-width="1"/>
<text transform="translate(39.3,305.06) scale(1.15,1) rotate(-30)" font-family="Liberation Serif" font-weight="bold" font-size="13.6" text-anchor="middle" dy="4.5">0</text>
<line x1="65.77777777777777" y1="295.6" x2="65.77777777777777" y2="298.1" stroke="#555" stroke-width="1"/>
<text transform="translate(64.57777777777777,308.31) scale(1.15,1) rotate(-30)" font-family="Liberation Serif" font-weight="bold" font-size="13.6" text-anchor="middle" dy="4.5">500</text>
<line x1="91.05555555555556" y1="295.6" x2="91.05555555555556" y2="298.1" stroke="#555" stroke-width="1"/>
<text transform="translate(89.85555555555555,309.94) scale(1.15,1) rotate(-30)" font-family="Liberation Serif" font-weight="bold" font-size="13.6" text-anchor="middle" dy="4.5">1000</text>
<line x1="116.33333333333334" y1="295.6" x2="116.33333333333334" y2="298.1" stroke="#555" stroke-width="1"/>
<text transform="translate(115.13333333333334,309.94) scale(1.15,1) rotate(-30)" font-family="Liberation Serif" font-weight="bold" font-size="13.6" text-anchor="middle" dy="4.5">1500</text>
<line x1="140.5" y1="295.6" x2="140.5" y2="298.1" stroke="#555" stroke-width="1"/>
<text transform="translate(139.3,305.06) scale(1.15,1) rotate(-30)" font-family="Liberation Serif" font-weight="bold" font-size="13.6" text-anchor="middle" dy="4.5">0</text>
<line x1="165.77777777777777" y1="295.6" x2="165.77777777777777" y2="298.1" stroke="#555" stroke-width="1"/>
<text transform="translate(164.57777777777778,308.31) scale(1.15,1) rotate(-30)" font-family="Liberation Serif" font-weight="bold" font-size="13.6" text-anchor="middle" dy="4.5">500</text>
<line x1="191.05555555555554" y1="295.6" x2="191.05555555555554" y2="298.1" stroke="#555" stroke-width="1"/>
<text transform="translate(189.85555555555555,309.94) scale(1.15,1) rotate(-30)" font-family="Liberation Serif" font-weight="bold" font-size="13.6" text-anchor="middle" dy="4.5">1000</text>
<line x1="216.33333333333334" y1="295.6" x2="216.33333333333334" y2="298.1" stroke="#555" stroke-width="1"/>
<text transform="translate(215.13333333333335,309.94) scale(1.15,1) rotate(-30)" font-family="Liberation Serif" font-weight="bold" font-size="13.6" text-anchor="middle" dy="4.5">1500</text>
<text x="50.4" y="188.7" font-family="Liberation Serif" font-weight="bold" font-size="17.6">c)</text>
<circle cx="285.9" cy="130.1" r="1.35" fill="#000"/>
<circle cx="290.3" cy="130.1" r="1.35" fill="#000"/>
<circle cx="294.7" cy="130.1" r="1.35" fill="#000"/>
<circle cx="286.4" cy="282.5" r="1.35" fill="#000"/>
<circle cx="290.9" cy="282.5" r="1.35" fill="#000"/>
<circle cx="295.4" cy="282.5" r="1.35" fill="#000"/>
<text transform="translate(11.4,84) rotate(-90)" font-family="Liberation Serif" font-weight="bold" font-size="16" text-anchor="middle">Velocity(km/h)</text>
<text transform="translate(11.4,245.3) rotate(-90)" font-family="Liberation Serif" font-weight="bold" font-size="16" text-anchor="middle">Velocity(km/h)</text>
<text x="175.6" y="343.5" font-family="Liberation Serif" font-weight="bold" font-size="19.9" text-anchor="middle">Time(s)</text>
<rect x="374.5" y="14.5" width="300.0" height="140.0" fill="#fff"/>
<line x1="374.5" y1="144.5" x2="674.5" y2="144.5" stroke="#e4e4e4" stroke-width="1"/>
<line x1="372.0" y1="144.5" x2="374.5" y2="144.5" stroke="#888" stroke-width="1"/>
<text x="372.5" y="149.1" font-family="Liberation Serif" font-weight="bold" font-size="13.5" text-anchor="end">0.9</text>
<line x1="374.5" y1="114.5" x2="674.5" y2="114.5" stroke="#e4e4e4" stroke-width="1"/>
<line x1="372.0" y1="114.5" x2="374.5" y2="114.5" stroke="#888" stroke-width="1"/>
<text x="372.5" y="119.1" font-family="Liberation Serif" font-weight="bold" font-size="13.5" text-anchor="end">1.0</text>
<line x1="374.5" y1="85.5" x2="674.5" y2="85.5" stroke="#e4e4e4" stroke-width="1"/>
<line x1="372.0" y1="85.5" x2="374.5" y2="85.5" stroke="#888" stroke-width="1"/>
<text x="372.5" y="90.1" font-family="Liberation Serif" font-weight="bold" font-size="13.5" text-anchor="end">1.1</text>
<line x1="374.5" y1="56.5" x2="674.5" y2="56.5" stroke="#e4e4e4" stroke-width="1"/>
<line x1="372.0" y1="56.5" x2="374.5" y2="56.5" stroke="#888" stroke-width="1"/>
<text x="372.5" y="61.1" font-family="Liberation Serif" font-weight="bold" font-size="13.5" text-anchor="end">1.2</text>
<line x1="374.5" y1="26.5" x2="674.5" y2="26.5" stroke="#e4e4e4" stroke-width="1"/>
<line x1="372.0" y1="26.5" x2="374.5" y2="26.5" stroke="#888" stroke-width="1"/>
<text x="372.5" y="31.1" font-family="Liberation Serif" font-weight="bold" font-size="13.5" text-anchor="end">1.3</text>
<polyline points="375.1,20 378.1,60.3 382,68.4 386,77.1 389.6,77.6 393.5,84.5 397,92.5 403.9,94.8 411.9,107.5 417.7,112 423.4,119.4 428,120.8 431.5,120.3 436,124.7 439.5,126.6 444.1,125.2 445.3,125 449.6,128 453.1,128 457.5,126.6 464.5,127.3 472.4,128 475.9,130.6 486.4,131 491.7,132.9 497.8,133.8 502.2,133.3 505.7,135 509.2,135 513.6,137 520.6,136.8 525,136.1 528.4,137.1 533.7,138.9 541.6,138.9 548.6,140.6 555,141.3 562.6,143.2 570.2,144.1 577.8,144.3 585.4,144.7 588.2,145.8 598.6,146 606.2,145.2 615.7,146 624.3,144.9 632.8,145.4 644.2,146.6 653.7,145.4 661.3,146.2 673.6,147" fill="none" stroke="#ec835b" stroke-width="1.4" stroke-linejoin="round"/>
<line x1="374.5" y1="147.1" x2="674.5" y2="147.1" stroke="#7cc0dc" stroke-width="1.2" stroke-dasharray="3,2"/>
<line x1="599.5" y1="14.5" x2="599.5" y2="154.5" stroke="#7cc0dc" stroke-width="1.2" stroke-dasharray="6.3,1.3,1,1.3"/>
<rect x="374.5" y="14.5" width="300.0" height="140.0" fill="none" stroke="#999" stroke-width="1"/>
<line x1="374.5" y1="154.5" x2="374.5" y2="157.0" stroke="#888" stroke-width="1"/>
<text x="374.5" y="166.1" font-family="Liberation Serif" font-weight="bold" font-size="13.5" text-anchor="middle">0</text>
<line x1="449.5" y1="154.5" x2="449.5" y2="157.0" stroke="#888" stroke-width="1"/>
<text x="449.5" y="166.1" font-family="Liberation Serif" font-weight="bold" font-size="13.5" text-anchor="middle">20</text>
<line x1="524.5" y1="154.5" x2="524.5" y2="157.0" stroke="#888" stroke-width="1"/>
<text x="524.5" y="166.1" font-family="Liberation Serif" font-weight="bold" font-size="13.5" text-anchor="middle">40</text>
<line x1="599.5" y1="154.5" x2="599.5" y2="157.0" stroke="#888" stroke-width="1"/>
<text x="599.5" y="166.1" font-family="Liberation Serif" font-weight="bold" font-size="13.5" text-anchor="middle">60</text>
<line x1="674.5" y1="154.5" x2="674.5" y2="157.0" stroke="#888" stroke-width="1"/>
<text x="674.5" y="166.1" font-family="Liberation Serif" font-weight="bold" font-size="13.5" text-anchor="middle">80</text>
<text x="383.4" y="30.9" font-family="Liberation Serif" font-weight="bold" font-size="17.2">b)</text>
<rect x="374.5" y="171.5" width="300.0" height="140.0" fill="#fff"/>
<line x1="374.5" y1="289.5" x2="674.5" y2="289.5" stroke="#e4e4e4" stroke-width="1"/>
<line x1="372.0" y1="289.5" x2="374.5" y2="289.5" stroke="#888" stroke-width="1"/>
<text x="372.5" y="294.1" font-family="Liberation Serif" font-weight="bold" font-size="13.5" text-anchor="end">1.2</text>
<line x1="374.5" y1="255.5" x2="674.5" y2="255.5" stroke="#e4e4e4" stroke-width="1"/>
<line x1="372.0" y1="255.5" x2="374.5" y2="255.5" stroke="#888" stroke-width="1"/>
<text x="372.5" y="260.1" font-family="Liberation Serif" font-weight="bold" font-size="13.5" text-anchor="end">1.4</text>
<line x1="374.5" y1="222.5" x2="674.5" y2="222.5" stroke="#e4e4e4" stroke-width="1"/>
<line x1="372.0" y1="222.5" x2="374.5" y2="222.5" stroke="#888" stroke-width="1"/>
<text x="372.5" y="227.1" font-family="Liberation Serif" font-weight="bold" font-size="13.5" text-anchor="end">1.6</text>
<line x1="374.5" y1="188.5" x2="674.5" y2="188.5" stroke="#e4e4e4" stroke-width="1"/>
<line x1="372.0" y1="188.5" x2="374.5" y2="188.5" stroke="#888" stroke-width="1"/>
<text x="372.5" y="193.1" font-family="Liberation Serif" font-weight="bold" font-size="13.5" text-anchor="end">1.8</text>
<polyline points="374.8,178 377.1,178 378.4,196.4 380.7,197.6 383,205.6 385.3,206.8 387.6,212.1 391.5,214.8 394.3,216 396.6,221 399.1,222.2 401.4,228.6 404.2,235.5 408.8,238.5 411.5,239 413.8,244.7 418,246.6 420,247.1 424,247.7 426,249.7 429,250.1 432.1,251.5 434.5,255.7 437.1,256.1 439.1,259.1 441.1,259.5 443.1,261.2 445.1,261.6 447.7,264.6 452.2,265 456.2,266.2 468.2,266.2 471.3,267.2 473.3,269.2 479.3,268.8 481.3,270.2 488.3,270.2 490.4,271.8 505.4,271.6 508.4,272.8 513.5,273.4 516.5,272.6 522.5,272.2 524.5,274.6 532.6,275.2 537.6,277.2 541.6,278 551.4,278.2 554.7,280.4 559.1,282.6 567.8,283.6 575.5,285.6 585.4,285.8 593,285 600.7,287.2 611.6,288 620.4,288.5 629.2,287.6 640.1,288 653.2,287.6 666.4,287.8 674,288" fill="none" stroke="#6b89ca" stroke-width="1.25" stroke-linejoin="round"/>
<line x1="374.5" y1="288.9" x2="674.5" y2="288.9" stroke="#e0909f" stroke-width="1.2" stroke-dasharray="3,2"/>
<line x1="620.9" y1="171.5" x2="620.9" y2="311.5" stroke="#e0909f" stroke-width="1.2" stroke-dasharray="6.3,1.3,1,1.3"/>
<rect x="374.5" y="171.5" width="300.0" height="140.0" fill="none" stroke="#999" stroke-width="1"/>
<line x1="374.5" y1="311.5" x2="374.5" y2="314.0" stroke="#888" stroke-width="1"/>
<text x="374.5" y="323.1" font-family="Liberation Serif" font-weight="bold" font-size="13.5" text-anchor="middle">0</text>
<line x1="417.35714285714283" y1="311.5" x2="417.35714285714283" y2="314.0" stroke="#888" stroke-width="1"/>
<text x="417.35714285714283" y="323.1" font-family="Liberation Serif" font-weight="bold" font-size="13.5" text-anchor="middle">20</text>
<line x1="460.2142857142857" y1="311.5" x2="460.2142857142857" y2="314.0" stroke="#888" stroke-width="1"/>
<text x="460.2142857142857" y="323.1" font-family="Liberation Serif" font-weight="bold" font-size="13.5" text-anchor="middle">40</text>
<line x1="503.07142857142856" y1="311.5" x2="503.07142857142856" y2="314.0" stroke="#888" stroke-width="1"/>
<text x="503.07142857142856" y="323.1" font-family="Liberation Serif" font-weight="bold" font-size="13.5" text-anchor="middle">60</text>
<line x1="545.9285714285714" y1="311.5" x2="545.9285714285714" y2="314.0" stroke="#888" stroke-width="1"/>
<text x="545.9285714285714" y="323.1" font-family="Liberation Serif" font-weight="bold" font-size="13.5" text-anchor="middle">80</text>
<line x1="588.7857142857142" y1="311.5" x2="588.7857142857142" y2="314.0" stroke="#888" stroke-width="1"/>
<text x="588.7857142857142" y="323.1" font-family="Liberation Serif" font-weight="bold" font-size="13.5" text-anchor="middle">100</text>
<line x1="631.6428571428571" y1="311.5" x2="631.6428571428571" y2="314.0" stroke="#888" stroke-width="1"/>
<text x="631.6428571428571" y="323.1" font-family="Liberation Serif" font-weight="bold" font-size="13.5" text-anchor="middle">120</text>
<line x1="674.5" y1="311.5" x2="674.5" y2="314.0" stroke="#888" stroke-width="1"/>
<text x="674.5" y="323.1" font-family="Liberation Serif" font-weight="bold" font-size="13.5" text-anchor="middle">140</text>
<text x="383.4" y="192.9" font-family="Liberation Serif" font-weight="bold" font-size="17.2">d)</text>
<text transform="translate(350.5,84.4) rotate(-90)" font-family="Liberation Serif" font-weight="bold" font-size="15" text-anchor="middle">DiffSum</text>
<text transform="translate(350.5,237) rotate(-90)" font-family="Liberation Serif" font-weight="bold" font-size="15" text-anchor="middle">DiffSum</text>
<text x="524.2" y="342.8" font-family="Liberation Serif" font-weight="bold" font-size="19.8" text-anchor="middle">Number of DCs</text>
<line x1="379.3" y1="4.6" x2="393" y2="4.6" stroke="#a8b8e0" stroke-width="1.2"/>
<text x="403.5" y="9.3" font-family="Liberation Serif" font-weight="bold" font-size="13.5">Xining</text>
<line x1="446" y1="4.6" x2="460" y2="4.6" stroke="#f2a890" stroke-width="1.2"/>
<text x="470.8" y="9.3" font-family="Liberation Serif" font-weight="bold" font-size="13.5">Tianjin</text>
</svg></body></html>
